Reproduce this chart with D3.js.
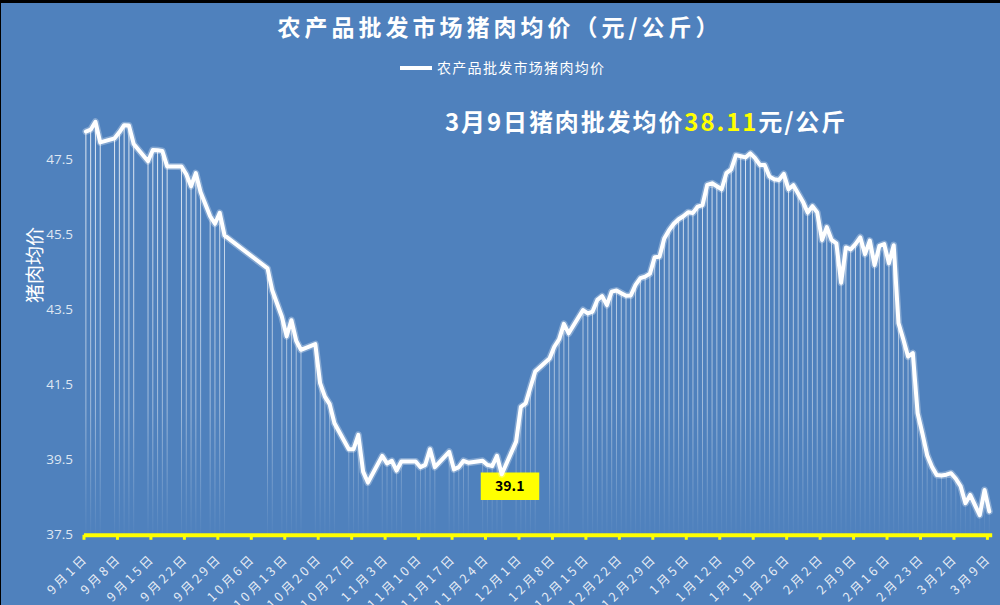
<!DOCTYPE html>
<html><head><meta charset="utf-8">
<script src="https://cdn.jsdelivr.net/npm/d3@7"></script>
<style>html,body{margin:0;padding:0;background:#000;} svg{display:block}</style>
</head><body><svg id="c" width="1000" height="605"></svg>
<script>
const dates = ["09-01","09-02","09-03","09-04","09-07","09-08","09-09","09-10","09-11","09-14","09-15","09-16","09-17","09-18","09-21","09-22","09-23","09-24","09-25","09-27","09-28","09-29","09-30",
"10-09","10-10","10-12","10-13","10-14","10-15","10-16","10-19","10-20","10-21","10-22","10-23","10-26","10-27","10-28","10-29","10-30",
"11-02","11-03","11-04","11-05","11-06","11-09","11-10","11-11","11-12","11-13","11-16","11-17","11-18","11-19","11-20","11-23","11-24","11-25","11-26","11-27","11-30",
"12-01","12-02","12-03","12-04","12-07","12-08","12-09","12-10","12-11","12-14","12-15","12-16","12-17","12-18","12-19","12-20","12-21","12-22","12-23","12-24","12-25","12-26","12-27","12-28","12-29","12-30","12-31",
"01-01","01-02","01-03","01-04","01-05","01-06","01-07","01-08","01-09","01-10","01-11","01-12","01-13","01-14","01-15","01-16","01-17","01-18","01-19","01-20","01-21","01-22","01-23","01-24","01-25","01-26","01-27","01-28","01-29","01-30","01-31",
"02-01","02-02","02-03","02-04","02-05","02-06","02-07","02-08","02-09","02-10","02-11","02-12","02-13","02-14","02-15","02-16","02-17","02-18","02-19","02-20","02-21","02-22","02-23","02-24","02-25","02-26","02-27","02-28",
"03-01","03-02","03-03","03-04","03-05","03-06","03-07","03-08","03-09"];
const values = [48.24,48.29,48.50,47.95,48.06,48.22,48.41,48.40,47.91,47.45,47.75,47.74,47.72,47.31,47.31,47.10,46.78,47.13,46.62,45.98,45.78,46.07,45.47,
44.59,44.00,43.30,42.78,43.21,42.66,42.42,42.57,41.53,41.17,40.97,40.46,39.77,39.77,40.15,39.17,38.88,
39.59,39.39,39.46,39.20,39.44,39.44,39.29,39.35,39.77,39.29,39.70,39.23,39.29,39.46,39.41,39.46,39.35,39.32,39.59,39.10,39.97,
40.90,40.99,41.42,41.84,42.19,42.50,42.70,43.11,42.86,43.48,43.39,43.44,43.75,43.85,43.61,43.97,44.00,43.93,43.86,43.87,44.15,44.33,44.37,44.45,44.89,44.90,45.39,
45.61,45.78,45.90,45.98,46.09,46.07,46.24,46.28,46.82,46.86,46.78,46.70,47.13,47.23,47.61,47.58,47.55,47.66,47.53,47.35,47.35,47.04,46.97,46.95,47.11,46.70,46.81,46.59,46.37,46.08,46.25,
46.08,45.35,45.69,45.35,45.26,44.21,45.15,45.10,45.24,45.42,44.97,45.33,44.68,45.19,45.24,44.73,45.21,43.13,42.70,42.24,42.33,40.73,40.19,39.61,39.30,39.08,39.07,39.09,
39.13,38.98,38.78,38.33,38.55,38.28,38.01,38.68,38.11];
const tickDates = ["09-01","09-08","09-15","09-22","09-29","10-06","10-13","10-20","10-27","11-03","11-10","11-17","11-24","12-01","12-08","12-15","12-22","12-29","01-05","01-12","01-19","01-26","02-02","02-09","02-16","02-23","03-02","03-09"];
const tickLabels = ["9月1日","9月8日","9月15日","9月22日","9月29日","10月6日","10月13日","10月20日","10月27日","11月3日","11月10日","11月17日","11月24日","12月1日","12月8日","12月15日","12月22日","12月29日","1月5日","1月12日","1月19日","1月26日","2月2日","2月9日","2月16日","2月23日","3月2日","3月9日"];
const yTicks = [37.5,39.5,41.5,43.5,45.5,47.5];
const titleText = "农产品批发市场猪肉均价（元/公斤）";
const seriesName = "农产品批发市场猪肉均价";
const yTitle = "猪肉均价";
const annotDate = "11-27", annotText = "39.1";
const latestParts = ["3月9日猪肉批发均价", "38.11", "元/公斤"];

const parse = s => { const [m, d] = s.split("-").map(Number); return new Date(Date.UTC(m >= 9 ? 2020 : 2021, m - 1, d)); };
const mid = dt => new Date(dt.getTime() + 12 * 3600 * 1000);
const data = dates.map((s, i) => ({ date: parse(s), value: values[i] }));

const svg = d3.select("#c");
const FONT = "'Noto Sans CJK SC','Noto Sans',sans-serif";
svg.append("rect").attr("x", 1).attr("y", 3).attr("width", 999).attr("height", 602).attr("fill", "#4f81bd");

const x = d3.scaleUtc().domain([new Date(Date.UTC(2020, 8, 1)), new Date(Date.UTC(2021, 2, 10))]).range([83.5, 991.7]);
const y = d3.scaleLinear().domain([37.5, 49.5]).range([534.3, 84.3]);
const y0 = y(37.5);

const defs = svg.append("defs");
const g = defs.append("linearGradient").attr("id", "dropGrad").attr("gradientUnits", "userSpaceOnUse")
  .attr("x1", 0).attr("y1", 120).attr("x2", 0).attr("y2", y0);
g.append("stop").attr("offset", 0).attr("stop-color", "#fff").attr("stop-opacity", 0.85);
g.append("stop").attr("offset", 0.7).attr("stop-color", "#fff").attr("stop-opacity", 0.45);
g.append("stop").attr("offset", 1).attr("stop-color", "#fff").attr("stop-opacity", 0.02);

// drop lines
svg.append("g").selectAll("line").data(data).join("line")
  .attr("x1", d => x(mid(d.date))).attr("x2", d => x(mid(d.date)))
  .attr("y1", d => y(d.value)).attr("y2", y0)
  .attr("stroke", "url(#dropGrad)").attr("stroke-width", 1);

// y axis
const ya = svg.append("g").attr("transform", "translate(73,0)")
  .call(d3.axisLeft(y).tickValues(yTicks).tickSize(0).tickPadding(0).tickFormat(d3.format(".1f")));
ya.select(".domain").remove();
ya.selectAll("text").attr("fill", "#dfe7f2").style("font-family", "'Open Sans','Noto Sans',sans-serif").style("font-size", "13.5px");

// x axis
const xa = svg.append("g").attr("transform", `translate(0,${y0 + 0.5})`)
  .call(d3.axisBottom(x).tickValues(tickDates.map(parse)).tickSize(5).tickSizeOuter(0)
    .tickFormat((d, i) => tickLabels[i]));
xa.select(".domain").attr("stroke", "#ffff00").attr("stroke-width", 4);
xa.selectAll(".tick line").attr("stroke", "#ffff00").attr("stroke-width", 3);
xa.selectAll(".tick text").attr("x", 0).attr("y", 0).attr("dy", 0)
  .attr("transform", "translate(5,24) rotate(-45)")
  .style("text-anchor", "end").style("font-family", FONT).style("font-size", "12.5px")
  .style("letter-spacing", "3.2px").attr("fill", "#e6ecf5");

// annotation box
const ad = data.find(d => d.date.getTime() === parse(annotDate).getTime());
const ax = x(mid(ad.date)), ay = y(ad.value);
svg.append("rect").attr("x", ax - 21).attr("y", ay - 1.8).attr("width", 58.5).attr("height", 27.5).attr("fill", "#ffff00");
svg.append("text").attr("x", ax + 8).attr("y", ay + 16.5).attr("text-anchor", "middle")
  .style("font-family", FONT).style("font-size", "14px").style("font-weight", "bold").attr("fill", "#000").text(annotText);

// line
const line = d3.line().x(d => x(mid(d.date))).y(d => y(d.value));
svg.append("path").datum(data).attr("d", line).attr("fill", "none").attr("stroke", "#fff")
  .attr("stroke-opacity", 0.3).attr("stroke-width", 7).attr("stroke-linejoin", "round").attr("stroke-linecap", "round");
svg.append("path").datum(data).attr("d", line).attr("fill", "none").attr("stroke", "#fff")
  .attr("stroke-width", 4).attr("stroke-linejoin", "round").attr("stroke-linecap", "round");

// title
svg.append("text").attr("x", 500).attr("y", 36).attr("text-anchor", "middle")
  .style("font-family", FONT).style("font-size", "23px").style("font-weight", "bold").style("letter-spacing", "4px")
  .attr("fill", "#fff").text(titleText);

// legend
svg.append("line").attr("x1", 400).attr("x2", 432).attr("y1", 68).attr("y2", 68).attr("stroke", "#fff").attr("stroke-width", 4);
svg.append("text").attr("x", 437).attr("y", 73).style("font-family", FONT).style("font-size", "14px")
  .style("letter-spacing", "1.3px").attr("fill", "#fff").text(seriesName);

// latest value headline
const hl = svg.append("text").attr("x", 445).attr("y", 131).style("font-family", FONT).style("font-size", "24px")
  .style("font-weight", "bold").style("letter-spacing", "1.9px").attr("fill", "#fff");
hl.append("tspan").text(latestParts[0]);
hl.append("tspan").attr("fill", "#ffff00").text(latestParts[1]);
hl.append("tspan").text(latestParts[2]);

// y title
svg.append("text").attr("transform", "translate(42,265) rotate(-90)").attr("text-anchor", "middle")
  .style("font-family", FONT).style("font-size", "19px").attr("fill", "#fff").text(yTitle);
</script></body></html>
